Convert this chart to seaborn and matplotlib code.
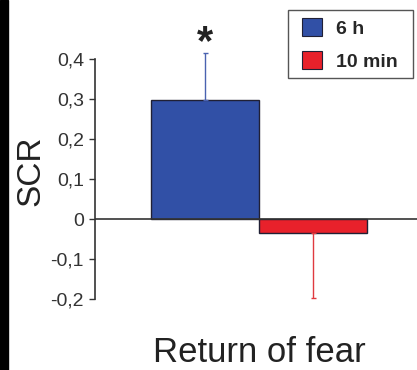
import numpy as np
import pandas as pd
import matplotlib
matplotlib.use("Agg")
import matplotlib.pyplot as plt
import seaborn as sns

# Werte
groups = ["6 h", "10 min"]
scr_mean = [0.298, -0.035]
scr_err_up = [0.117, 0.0]
scr_err_down = [0.0, 0.163]
bar_colors = ["#3150a6", "#e8212b"]
err_colors = ["#4a62b0", "#e03a40"]
y_ticks = [-0.2, -0.1, 0.0, 0.1, 0.2, 0.3, 0.4]
y_ticklabels = ["-0,2", "-0,1", "0", "0,1", "0,2", "0,3", "0,4"]

sns.set_style("white")
plt.rcParams["font.family"] = ["Liberation Sans", "DejaVu Sans"]

df = pd.DataFrame({"cond": ["Return of fear"] * 2, "group": groups, "scr": scr_mean})

fig = plt.figure(figsize=(4.17, 3.70), dpi=100)
ax = fig.add_axes([95 / 417, 71 / 370, 322 / 417, 240 / 370])

sns.barplot(data=df, x="cond", y="scr", hue="group", hue_order=groups,
            palette=bar_colors, saturation=1, width=0.8, edgecolor="#202035",
            linewidth=1.0, errorbar=None, legend=False, ax=ax)

# Fehlerbalken einseitig, Farbe wie Balken
for patch, m, up, lo, c in zip(ax.patches, scr_mean, scr_err_up, scr_err_down, err_colors):
    xc = patch.get_x() + patch.get_width() / 2
    ax.errorbar(xc, m, yerr=[[lo], [up]], fmt="none", ecolor=c, elinewidth=1.0,
                capsize=1.8, capthick=1.0, clip_on=False, zorder=1)

# Signifikanz-Stern
x_star = ax.patches[0].get_x() + ax.patches[0].get_width() / 2
ax.text(x_star, 0.441, "*", ha="center", va="center", fontsize=30,
        fontweight="bold", color="#222222", clip_on=False)

ax.axhline(0, color="#333333", lw=1.2, zorder=3)

ax.set_ylim(-0.2, 0.4)
ax.set_xlim(-0.607, 0.585)
ax.set_yticks(y_ticks)
ax.set_yticklabels(y_ticklabels)
ax.set_xticks([])
ax.tick_params(axis="y", direction="out", length=4, width=1.0, color="#333333",
               labelsize=14, labelcolor="#333333", pad=4, left=True)
for s in ["top", "right", "bottom"]:
    ax.spines[s].set_visible(False)
ax.spines["left"].set_color("#333333")
ax.spines["left"].set_linewidth(1.2)

ax.set_ylabel("SCR", fontsize=24, color="#222222")
ax.yaxis.set_label_coords(-0.15, 0.535)
ax.set_xlabel("Return of fear", fontsize=25, color="#222222")
ax.xaxis.set_label_coords(0.51, -0.155)

# Legende ohne eigenen Rahmen, Kasten separat gezeichnet
handles = [plt.Rectangle((0, 0), 1, 1, facecolor=c, edgecolor="#202035", lw=0.8)
           for c in bar_colors]
leg = ax.legend(handles, groups, loc="upper left",
                bbox_to_anchor=(302 / 417, 1 - 18 / 370), bbox_transform=fig.transFigure,
                frameon=False, prop={"weight": "bold", "size": 14},
                handlelength=1.05, handleheight=1.05, labelspacing=0.7,
                borderpad=0, borderaxespad=0, handletextpad=0.7)
leg.set_zorder(6)
ax.add_patch(plt.Rectangle((288 / 417, 1 - 78 / 370), 125 / 417, 68 / 370,
                           transform=fig.transFigure, facecolor="white",
                           edgecolor="#555555", lw=1.0, zorder=5, clip_on=False))

# schwarzer Rand links wie im Original
fig.patches.append(plt.Rectangle((0, 0), 8 / 417, 1, transform=fig.transFigure,
                                 color="black", zorder=0))

fig.savefig("out.png", dpi=100)
